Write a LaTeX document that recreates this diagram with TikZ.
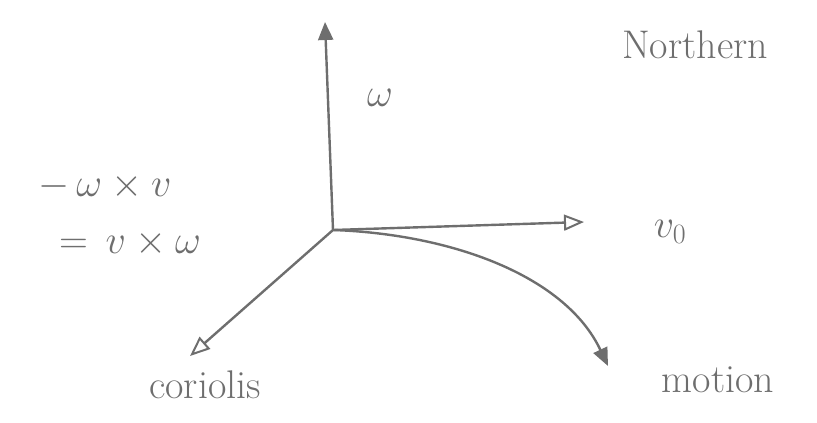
\RequirePackage{fix-cm}
\documentclass[tikz,border=0pt]{standalone}
\usetikzlibrary{arrows.meta}
\begin{document}
\begin{tikzpicture}[x=1pt,y=-1pt,
  pen/.style={draw=penc,line width=2.4pt},
  lbl/.style={text=penc,font=\fontsize{40}{46}\selectfont,inner sep=0pt},
  opentip/.style={-{Triangle[open,length=20pt,width=16pt,line width=2pt]}},
  filltip/.style={-{Triangle[length=18pt,width=15pt]}}]
\definecolor{penc}{RGB}{110,110,110}
\useasboundingbox (0,0) rectangle (817,423);
\coordinate (o) at (333,230);
\coordinate (up) at (325,22);
\coordinate (vend) at (584,222);
\coordinate (cend) at (190,356);
\coordinate (mend) at (608,366);
\draw[pen,-{Triangle[length=18pt,width=15pt]}] (o) -- (up);
\draw[pen,opentip] (o) -- (vend);
\draw[pen,opentip] (o) -- (cend);
\draw[pen,filltip] (o) .. controls (450,234) and (565,275) .. (mend);
\node[lbl] (w) at (380,98) {$\omega$};
\node[lbl,anchor=west] (north) at (622,45) {Northern};
\node[lbl] (cr1) at (105,186) {$-\,\omega\times v$};
\node[lbl] (cr2) at (130,243) {$=\,v\times\omega$};
\node[lbl] (v0) at (670,232) {$v_0$};
\node[lbl] (cor) at (205,385) {coriolis};
\node[lbl] (mot) at (718,380) {motion};
\end{tikzpicture}
\end{document}
